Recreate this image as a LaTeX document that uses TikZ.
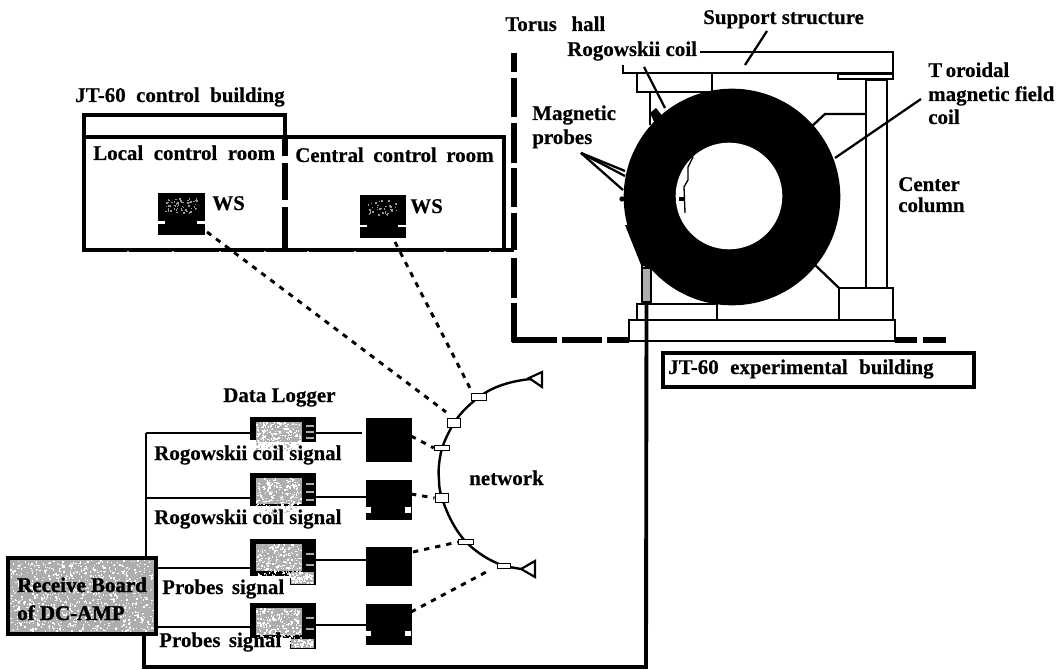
\documentclass[tikz,border=0pt]{standalone}
\usepackage{fontspec}
\setmainfont{Liberation Serif}
\usetikzlibrary{calc}
\definecolor{speck}{gray}{0.68}
\tikzset{
  x=0.75pt,y=-0.75pt,
  lab/.style={anchor=base west,inner sep=0pt,font=\fontsize{15.7}{18}\selectfont\bfseries\addfontfeatures{FakeBold=0.4},text=black},
  heavy/.style={lab,font=\fontsize{15.7}{18}\selectfont\bfseries\addfontfeatures{FakeBold=1.6}},
  thin line/.style={draw=black,line width=1.1pt},
  mid line/.style={draw=black,line width=1.7pt},
  wall/.style={draw=black,line width=3.2pt},
  hall/.style={draw=black,line width=3.9pt},
  dots link/.style={draw=black,line width=2.2pt,dash pattern=on 4pt off 4.5pt},
  tap/.style={draw=black,fill=white,line width=1.2pt,inner sep=0pt,minimum width=11pt,minimum height=5pt},
  tapthin/.style={tap,minimum height=3.5pt},
  blackbox/.style={fill=black,draw=black,inner sep=0pt},
  end mark/.style={draw=black,fill=white,line width=1.6pt,line join=miter},
}
\newcommand{\rectnode}[6]{% name, style, x1,y1,x2,y2
  \path let \n1={(#3+#5)/2},\n2={(#4+#6)/2},\n3={(#5-#3)*0.75},\n4={(#6-#4)*0.75} in
    node[#2,minimum width=\n3 pt,minimum height=\n4 pt,inner sep=0pt,outer sep=0pt] (#1) at (\n1,\n2) {};}
\newcommand{\speckle}[6]{% x1,y1,x2,y2,count,colour
  \foreach \i in {1,...,#5}{
    \pgfmathsetmacro{\px}{#1+rnd*(#3-#1-1.5)}
    \pgfmathsetmacro{\py}{#2+rnd*(#4-#2-1.5)}
    \fill[#6] (\px,\py) rectangle ++(1.5,1.5);
  }}
\begin{document}
\begin{tikzpicture}
\pgfmathsetseed{7}
\useasboundingbox (0,0) rectangle (1060,670);
\fill[white] (0,0) rectangle (1060,670);

% Torus hall walls
\foreach \a/\b in {53/72,78/117,123/163,168/207,213/250,258/298,303/342}
  \draw[hall] (514,\a) -- (514,\b);
\foreach \a/\b in {512/557,562/602,607/629,895/917,923/946}
  \draw[hall] (\a,340) -- (\b,340);

% Control building
\draw[wall] (84,137) -- (84,115) -- (285,115) -- (285,137);
\draw[wall] (84,137) -- (506,137);
\draw[wall] (84,137) -- (84,250) -- (514,250);
\draw[wall] (504,137) -- (504,250);
\foreach \a/\b in {137/156,163/200,207/250}
  \draw[draw=black,line width=4pt] (285,\a) -- (285,\b);
\foreach \a in {128,173,220,265,308,355,445,490}
  \fill[white] (\a,252.5) circle (1.6);

% Machine structure
\draw[mid line] (700,52) -- (893,52) -- (893,73) -- (623,73) -- (623,65);
\draw[thin line] (637,74) -- (637,92) -- (712,92) -- (712,74);
\draw[thin line,fill=white] (838,74) rectangle (893,79);
\draw[mid line] (650,92) -- (650,125);
\draw[thin line] (866,80) rectangle (887,288);
\draw[mid line] (866,114) -- (825,114) -- (811,127);
\draw[mid line] (813,263) -- (839,288);
\draw[thin line] (839,288) rectangle (893,320);
\draw[thin line] (629,320) rectangle (895,341);
\draw[thin line] (637,304) rectangle (717,320);

% Torus
\node[circle,fill=black,minimum size=162.5pt,inner sep=0pt] (torus) at (732,197) {};
\fill[black] (625,225) -- (641,265) -- (665,275) -- (660,230) -- cycle;
\fill[black] (650,113) -- (656,108) -- (664,118) -- (655,124) -- cycle;
\node[circle,fill=white,minimum size=80pt,inner sep=0pt] (hole) at (729,196) {};
\draw[black,line width=1pt] (693,157) -- (688,167) -- (688,180) -- (684,187) -- (685,213);
\fill[black] (679,197) rectangle (684,201);
\fill[black] (622,199) circle (2pt);

% Probe feed
\rectnode{probe}{draw=black,line width=1.5pt,fill=speck}{642}{268}{651}{302}
\draw[thin line] (642,262) -- (642,268);

% Leaders
\coordinate (supportTip) at (767,31);
\coordinate (supportEnd) at (745,65);
\draw[mid line] (supportTip) -- (supportEnd);
\coordinate (rogoA) at (644,67);
\coordinate (rogoB) at (665,108);
\draw[mid line] (rogoA) -- (rogoB);
\coordinate (magA) at (581,153);
\draw[mid line] (magA) -- (625,171);
\draw[mid line] (magA) -- (625,176);
\draw[mid line] (magA) -- (623,190);
\coordinate (tfA) at (921,99);
\draw[mid line] (tfA) -- (835,158);

% Experimental building label
\draw[draw=black,line width=2.8pt] (663,353) rectangle (974,387);

% Main cable
\rectnode{recv}{draw=black,line width=3.2pt,fill=speck}{8}{558}{156}{634}
\speckle{10}{560}{154}{632}{900}{white}
\speckle{10}{560}{154}{632}{500}{gray!60}
\coordinate (cableTurnA) at (144,667);
\coordinate (cableTurnB) at (646,667);
\draw[draw=black,line width=2.9pt] (144,634) -- (cableTurnA) -- (cableTurnB) -- (probe.south);
\coordinate (busTop) at (146,433);
\coordinate (busMid) at (146,498);
\draw[mid line] (146,558) -- (busTop);

% Data loggers
\newcommand{\loggertop}[5]{% name,y1,y2,bottom trim,top trim
  \rectnode{#1}{fill=black}{250}{#2}{316}{#3}
  \fill[speck] (256,#2+#5) rectangle (302,#3+#4);
  \speckle{256}{#2+#5}{302}{#3+#4}{220}{white}
  \speckle{256}{#2+#5}{302}{#3+#4}{120}{gray!55}
  \foreach \k in {0.3,0.55,0.8} \fill[speck] (306,{#2+(#3-#2)*\k}) rectangle (314,{#2+(#3-#2)*\k+2});
}
\loggertop{lg1}{417}{442}{0}{5}
\fill[white] (250,440) rectangle (256,443);
\loggertop{lg2}{473}{506}{-2}{5}
\loggertop{lg3}{539}{585}{-14}{5}
\fill[white] (250,575.5) rectangle (290,586);
\fill[speck] (291,572) rectangle (314,584);
\speckle{291}{572}{314}{584}{70}{white}
\loggertop{lg4}{603}{649}{-14}{5}
\fill[white] (250,637.5) rectangle (290,650);
\fill[speck] (291,639) rectangle (314,648);
\speckle{291}{639}{314}{648}{50}{white}

% Black boxes
\rectnode{dev1}{blackbox}{366}{418}{411}{461}
\rectnode{dev2}{blackbox}{366}{480}{411}{519}
\fill[white] (366,507) rectangle (371,513);\fill[white] (405,507) rectangle (411,513);
\rectnode{dev3}{blackbox}{366}{547}{411}{585}
\rectnode{dev4}{blackbox}{366}{604}{411}{644}
\fill[white] (366,631) rectangle (371,636);\fill[white] (405,631) rectangle (411,636);

% Workstations
\rectnode{ws1}{blackbox}{158}{193}{204}{220}
\fill[black] (165,218) rectangle (197,226);
\rectnode{ws1b}{blackbox}{158}{224}{204}{234}
\rectnode{ws2}{blackbox}{360}{195}{405}{224}
\fill[black] (367,222) rectangle (398,229);
\rectnode{ws2b}{blackbox}{360}{227}{405}{237}
\speckle{165}{198}{198}{214}{60}{gray!80}
\speckle{367}{200}{399}{216}{40}{gray!80}

% Logger wiring
\draw[mid line] (busTop) -- (lg1.west |- busTop);
\draw[mid line] (busMid) -- (lg2.west |- busMid);
\draw[mid line] (157,568) -- (250,568);
\draw[mid line] (157,627) -- (250,627);
\draw[mid line] (316,433) -- (362,433);
\draw[mid line] (316,497) -- (dev2.west |- 316,497);
\draw[mid line] (316,560) -- (dev3.west |- 316,560);
\draw[mid line] (316,625) -- (dev4.west |- 316,625);

% Network
\coordinate (netTop) at (531,379);
\coordinate (netBot) at (521,569);
\draw[draw=black,line width=1.8pt] (netTop) .. controls (510,381) and (492,387) .. (479,397)
  .. controls (466,407) and (459,415) .. (454,423)
  .. controls (448,433) and (445,440) .. (442,448)
  .. controls (439,460) and (438,470) .. (439,480)
  .. controls (439,487) and (440,492) .. (442,498)
  .. controls (447,514) and (455,530) .. (466,542)
  .. controls (477,553) and (490,561) .. (504,566)
  -- (netBot);
\draw[end mark] (529,378) -- (542,372) -- (542,387) -- cycle;
\draw[end mark] (521,569) -- (535,561) -- (535,577) -- cycle;
\node[tap] (t1) at (479,397) {};
\node[tap,minimum width=10pt,minimum height=6.5pt] (t2) at (454,423) {};
\node[tapthin] (t3) at (442,448) {};
\node[tap,minimum width=10pt,minimum height=6.5pt] (t4) at (442,498) {};
\node[tapthin] (t5) at (466,542) {};
\node[tapthin,minimum width=10pt] (t6) at (504,566) {};

% Dotted links
\draw[dots link] (207,232) -- (446,412);
\draw[dots link] (395,242) -- (471,390);
\draw[dots link] (411,436) -- (t3.west);
\draw[dots link] (411,494) -- (t4.west);
\draw[dots link] (413,552) -- (t5.west);
\draw[dots link] (411,612) -- (490,570);

% Labels
\node[lab] (tTorus) at (505,31) {Torus\hspace{0.7em}hall};
\node[lab] (tSupport) at (703,24) {Support structure};
\node[lab] (tRogo) at (567,56) {Rogowskii coil};
\node[lab] (tMag1) at (532,120) {Magnetic};
\node[lab] (tMag2) at (532,144) {probes};
\node[lab] (tTf1) at (928,77) {T\,oroidal};
\node[lab] (tTf2) at (928,101) {magnetic field};
\node[lab] (tTf3) at (928,124) {coil};
\node[lab] (tCc1) at (898,191) {Center};
\node[lab] (tCc2) at (898,212) {column};
\node[lab] (tJt) at (75,102) {JT-60\hspace{0.5em}control\hspace{0.5em}building};
\node[lab] (tLocal) at (93,160) {Local\hspace{0.5em}control\hspace{0.5em}room};
\node[lab] (tCentral) at (295,162) {Central\hspace{0.45em}control\hspace{0.45em}room};
\node[lab] (tWs1) at (212,210) {WS};
\node[lab] (tWs2) at (410,213) {WS};
\node[lab] (tExp) at (668,374) {JT-60\hspace{0.55em}experimental\hspace{0.55em}building};
\node[lab] (tLog) at (223,402) {Data Logger};
\node[lab] (tSig1) at (154,460) {Rogowskii coil signal};
\node[lab] (tSig2) at (154,524) {Rogowskii coil signal};
\node[lab] (tSig3) at (162,594) {Probes\hspace{0.4em}signal};
\node[lab] (tSig4) at (159,647) {Probes\hspace{0.4em}signal};
\node[lab] (tNet) at (469,485) {network};
\node[heavy] (tRecv1) at (17,592) {Receive Board};
\node[heavy] (tRecv2) at (17,620) {of DC-AMP};
\end{tikzpicture}
\end{document}
